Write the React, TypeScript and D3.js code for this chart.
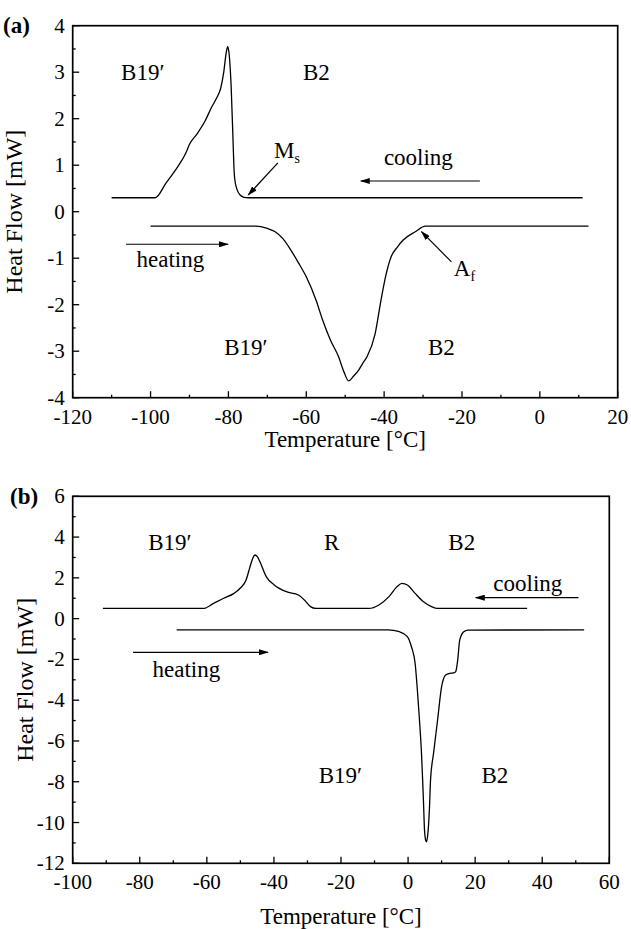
import React from 'react';
import * as d3 from 'd3';

// ---------- Data (Temperature °C, Heat Flow mW) ----------
const coolingA: [number, number][] = [
  [-110, 0.3], [-98.8, 0.3], [-96, 0.62], [-93, 0.97], [-91, 1.25], [-90, 1.45],
  [-88, 1.68], [-86, 1.95], [-84.3, 2.25], [-83, 2.45], [-82, 2.65], [-81.2, 3.0],
  [-80.6, 3.4], [-80.2, 3.55], [-79.9, 3.45], [-79.3, 2.7], [-78.8, 1.5], [-78.6, 1.0],
  [-78.4, 0.72], [-77.8, 0.48], [-77, 0.36], [-76, 0.31], [-75, 0.3], [11, 0.3],
];
const heatingA: [number, number][] = [
  [-100, -0.31], [-73, -0.31], [-70, -0.36], [-68, -0.43], [-66, -0.58], [-64, -0.82],
  [-62, -1.1], [-60, -1.4], [-57.5, -1.9], [-55.8, -2.33], [-53.8, -2.76], [-51.7, -3.12],
  [-50.3, -3.45], [-49.1, -3.64], [-48, -3.55], [-46.5, -3.4], [-45.5, -3.26], [-44.4, -3.12],
  [-42.3, -2.62], [-40.8, -1.9], [-39.5, -1.35], [-38.2, -0.97], [-36.5, -0.75], [-35.1, -0.61],
  [-32, -0.43], [-29.4, -0.31], [12.5, -0.31],
];
const coolingB: [number, number][] = [
  [-91, 0.5], [-61, 0.5], [-58, 0.75], [-55, 1.0], [-51.9, 1.24], [-50, 1.5], [-48.3, 1.9],
  [-47.2, 2.5], [-46.5, 2.88], [-45.6, 3.12], [-44.8, 3.0], [-44.2, 2.8], [-42.3, 2.06],
  [-39.9, 1.65], [-36.3, 1.32], [-32.7, 1.16], [-30.9, 0.91], [-29.1, 0.59], [-27.5, 0.5],
  [-11.7, 0.5], [-8.7, 0.67], [-5.7, 1.08], [-3.3, 1.57], [-1.8, 1.73], [-0.2, 1.65],
  [2.1, 1.24], [4.6, 0.83], [7, 0.59], [8.8, 0.5], [35.5, 0.5],
];
const heatingB: [number, number][] = [
  [-69, -0.55], [-6, -0.55], [-2.6, -0.64], [-0.2, -0.88], [1, -1.38], [2.1, -2.19],
  [2.7, -3.34], [3.4, -4.97], [4, -6.6], [4.3, -7.75], [4.6, -9], [4.9, -10.36], [5.3, -10.9],
  [5.5, -10.95], [5.8, -10.7], [6.0, -10.36], [6.4, -9.2], [6.7, -7.9], [7.6, -6.6], [8.8, -4.97],
  [10, -3.34], [11.2, -2.76], [12.4, -2.68], [13.6, -2.66], [14.2, -2.6], [14.8, -2.03],
  [15.4, -1.05], [16.6, -0.64], [17.8, -0.56], [52.5, -0.55],
];

const xTicksA = [-120, -100, -80, -60, -40, -20, 0, 20];
const yTicksA = [-4, -3, -2, -1, 0, 1, 2, 3, 4];
const xTicksB = [-100, -80, -60, -40, -20, 0, 20, 40, 60];
const yTicksB = [-12, -10, -8, -6, -4, -2, 0, 2, 4, 6];

type Label = { text: string; sub?: string; x: number; y: number; anchor: 'start' | 'middle' | 'end' };
type Arrow = { x1: number; y1: number; x2: number; y2: number };

const labelsA: Label[] = [
  { text: 'B19′', x: -102, y: 2.83, anchor: 'middle' },
  { text: 'B2', x: -57.4, y: 2.83, anchor: 'middle' },
  { text: 'M', sub: 's', x: -68.3, y: 1.15, anchor: 'start' },
  { text: 'cooling', x: -31.2, y: 1.0, anchor: 'middle' },
  { text: 'heating', x: -94.9, y: -1.19, anchor: 'middle' },
  { text: 'A', sub: 'f', x: -22.1, y: -1.38, anchor: 'start' },
  { text: 'B19′', x: -75.5, y: -3.08, anchor: 'middle' },
  { text: 'B2', x: -25.3, y: -3.08, anchor: 'middle' },
];
const arrowsA: Arrow[] = [
  { x1: -67.3, y1: 1.05, x2: -74.9, y2: 0.36 },
  { x1: -15.4, y1: 0.66, x2: -46, y2: 0.66 },
  { x1: -106.3, y1: -0.7, x2: -80.1, y2: -0.7 },
  { x1: -22.7, y1: -1.08, x2: -30.4, y2: -0.43 },
];
const labelsB: Label[] = [
  { text: 'B19′', x: -71, y: 3.37, anchor: 'middle' },
  { text: 'R', x: -22.8, y: 3.37, anchor: 'middle' },
  { text: 'B2', x: 16, y: 3.37, anchor: 'middle' },
  { text: 'cooling', x: 35.7, y: 1.36, anchor: 'middle' },
  { text: 'heating', x: -66.1, y: -2.86, anchor: 'middle' },
  { text: 'B19′', x: -20.2, y: -8.06, anchor: 'middle' },
  { text: 'B2', x: 25.9, y: -8.06, anchor: 'middle' },
];
const arrowsB: Arrow[] = [
  { x1: 50.8, y1: 1.03, x2: 20.2, y2: 1.03 },
  { x1: -82, y1: -1.65, x2: -41.8, y2: -1.65 },
];

const FONT = '"Liberation Serif", Tinos, "Times New Roman", Times, "Nimbus Roman", "DejaVu Serif", serif';

type PanelProps = {
  box: { left: number; right: number; top: number; bottom: number };
  xDomain: [number, number];
  yDomain: [number, number];
  xTicks: number[];
  yTicks: number[];
  curves: [number, number][][];
  labels: Label[];
  arrows: Arrow[];
  tag: string;
  tagX: number;
  yTitleX: number;
  xTitleY: number;
};

const txt = (size: number, extra: React.CSSProperties = {}): React.CSSProperties => ({
  fontFamily: FONT,
  fontSize: size + 'px',
  ...extra,
});

function Panel(p: PanelProps) {
  const { box } = p;
  const x = d3.scaleLinear().domain(p.xDomain).range([box.left, box.right]);
  const y = d3.scaleLinear().domain(p.yDomain).range([box.bottom, box.top]);
  const line = d3
    .line<[number, number]>()
    .x((d) => x(d[0]))
    .y((d) => y(d[1]))
    .curve(d3.curveMonotoneX);
  const xStep = p.xTicks[1] - p.xTicks[0];
  const yStep = p.yTicks[1] - p.yTicks[0];
  const xMinor = p.xTicks.slice(0, -1).map((t) => t + xStep / 2);
  const yMinor = p.yTicks.slice(0, -1).map((t) => t + yStep / 2);
  const cy = (box.top + box.bottom) / 2;
  const cx = (box.left + box.right) / 2;
  return (
    <g fill="#000">
      {p.curves.map((c, i) => (
        <path key={i} d={line(c) || ''} fill="none" stroke="#000" strokeWidth={1.3} />
      ))}
      {p.xTicks.map((t) => (
        <line key={'xt' + t} x1={x(t)} x2={x(t)} y1={box.bottom} y2={box.bottom - 6.5} stroke="#000" strokeWidth={1.3} />
      ))}
      {xMinor.map((t) => (
        <line key={'xm' + t} x1={x(t)} x2={x(t)} y1={box.bottom} y2={box.bottom - 3} stroke="#000" strokeWidth={1.3} />
      ))}
      {p.yTicks.map((t) => (
        <line key={'yt' + t} x1={box.left} x2={box.left + 6.5} y1={y(t)} y2={y(t)} stroke="#000" strokeWidth={1.3} />
      ))}
      {yMinor.map((t) => (
        <line key={'ym' + t} x1={box.left} x2={box.left + 3} y1={y(t)} y2={y(t)} stroke="#000" strokeWidth={1.3} />
      ))}
      <rect x={box.left} y={box.top} width={box.right - box.left} height={box.bottom - box.top} fill="none" stroke="#000" strokeWidth={1.7} />
      {p.xTicks.map((t) => (
        <text key={'xl' + t} x={x(t)} y={box.bottom + 26} textAnchor="middle" style={txt(21)}>
          {t}
        </text>
      ))}
      {p.yTicks.map((t) => (
        <text key={'yl' + t} x={box.left - 8} y={y(t) + 7} textAnchor="end" style={txt(21)}>
          {t}
        </text>
      ))}
      <text x={cx} y={p.xTitleY} textAnchor="middle" style={txt(23)}>
        Temperature [°C]
      </text>
      <text transform={`translate(${p.yTitleX},${cy}) rotate(-90)`} textAnchor="middle" style={txt(24)}>
        Heat Flow [mW]
      </text>
      <text x={p.tagX} y={box.top + 7.5} style={txt(23, { fontWeight: 'bold' })}>
        {p.tag}
      </text>
      {p.labels.map((l, i) => (
        <text key={'lb' + i} x={x(l.x)} y={y(l.y)} textAnchor={l.anchor} style={txt(23)}>
          {l.text}
          {l.sub ? (
            <tspan style={txt(14)} dy={5}>
              {l.sub}
            </tspan>
          ) : null}
        </text>
      ))}
      {p.arrows.map((a, i) => (
        <line
          key={'ar' + i}
          x1={x(a.x1)}
          y1={y(a.y1)}
          x2={x(a.x2)}
          y2={y(a.y2)}
          stroke="#000"
          strokeWidth={1.2}
          markerEnd="url(#arrowHead)"
        />
      ))}
    </g>
  );
}

export default function App() {
  return (
    <svg
      width={631}
      height={929}
      style={{ position: 'absolute', left: 0, top: 0, background: '#fff', display: 'block' }}
    >
      <defs>
        <marker
          id="arrowHead"
          viewBox="0 0 10 6"
          refX={9}
          refY={3}
          markerWidth={10}
          markerHeight={6}
          markerUnits="userSpaceOnUse"
          orient="auto"
        >
          <path d="M0,0L10,3L0,6Z" fill="#000" />
        </marker>
      </defs>
      <rect x={0} y={0} width={631} height={929} fill="#fff" />
      <Panel
        box={{ left: 72.7, right: 617.7, top: 25.7, bottom: 397.7 }}
        xDomain={[-120, 20]}
        yDomain={[-4, 4]}
        xTicks={xTicksA}
        yTicks={yTicksA}
        curves={[coolingA, heatingA]}
        labels={labelsA}
        arrows={arrowsA}
        tag="(a)"
        tagX={3}
        yTitleX={22}
        xTitleY={447}
      />
      <Panel
        box={{ left: 72.7, right: 609.3, top: 496.3, bottom: 863.3 }}
        xDomain={[-100, 60]}
        yDomain={[-12, 6]}
        xTicks={xTicksB}
        yTicks={yTicksB}
        curves={[coolingB, heatingB]}
        labels={labelsB}
        arrows={arrowsB}
        tag="(b)"
        tagX={10}
        yTitleX={33}
        xTitleY={924}
      />
    </svg>
  );
}
